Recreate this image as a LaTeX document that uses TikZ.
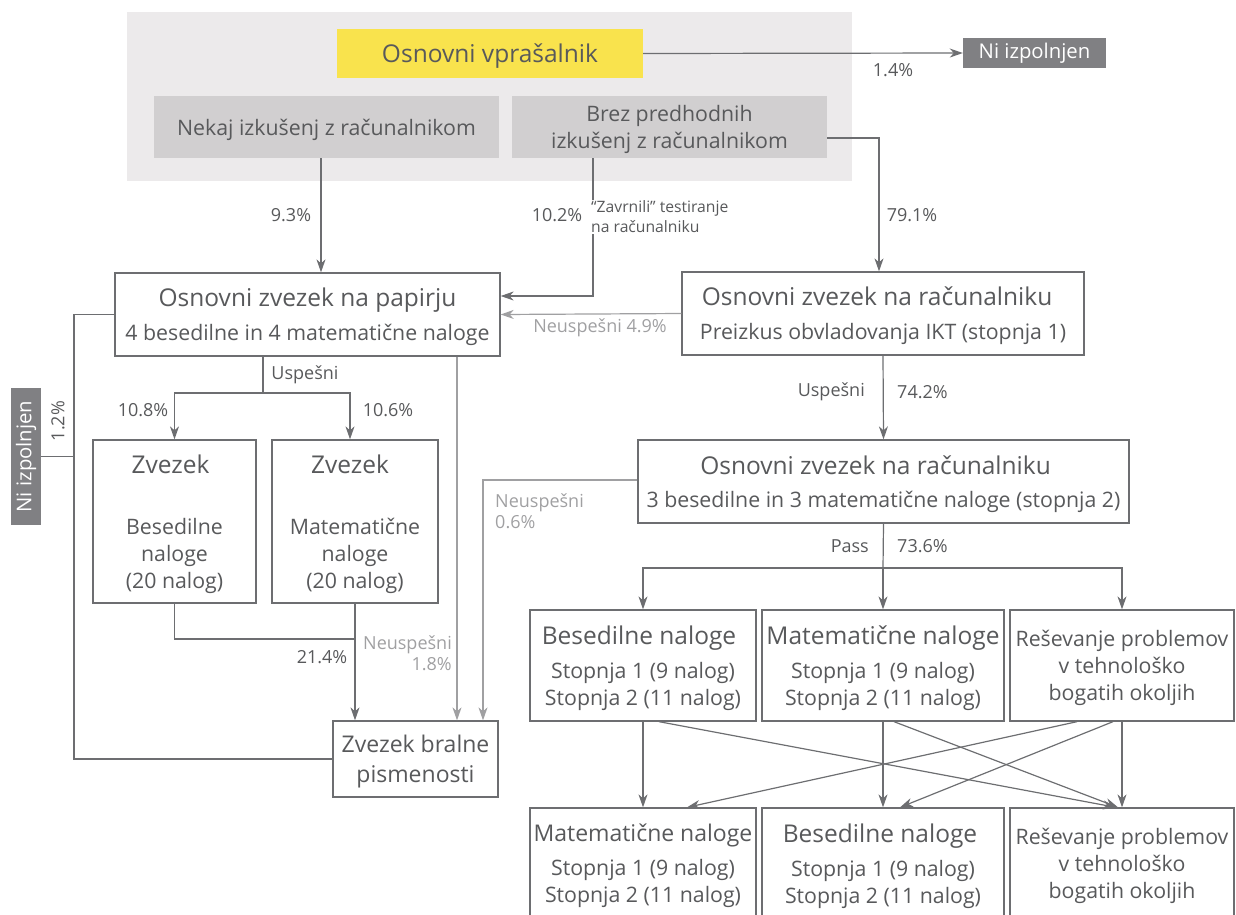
\documentclass[tikz,border=0pt]{standalone}
\usepackage{fontspec}
\setmainfont{Open Sans}
\usetikzlibrary{arrows.meta}
\definecolor{txtgray}{HTML}{58595B}
\definecolor{linegray}{HTML}{6D6E71}
\definecolor{failgray}{HTML}{A0A0A2}
\definecolor{bgpanel}{HTML}{ECEAEB}
\definecolor{graybox}{HTML}{D1CFD0}
\definecolor{yellowq}{HTML}{F9E34D}
\definecolor{nifill}{HTML}{808083}
\newcommand{\boxhead}{\fontsize{24.5}{30}\selectfont}
\newcommand{\boxsub}{\fontsize{21.3}{27}\selectfont}
\newcommand{\pctfont}{\fontsize{18}{21}\selectfont}
\newcommand{\notefont}{\fontsize{15.7}{20}\selectfont}
\tikzset{>={Stealth[length=13pt,width=9pt,inset=4pt]}}

\begin{document}
\begin{tikzpicture}[x=1pt, y=-1pt,
    box/.style={draw=linegray, line width=1.3pt, fill=white, text=txtgray, align=center, inner sep=0pt, text depth=0pt, font=\boxsub},
    panel/.style={fill=#1, text=txtgray, align=center, inner sep=0pt, text depth=0pt, font=\boxsub},
    nibox/.style={fill=nifill, text=white, inner sep=0pt, font=\fontsize{20.3}{24}\selectfont},
    pct/.style={text=txtgray, font=\pctfont, inner sep=1pt},
    fail/.style={text=failgray, font=\pctfont, inner sep=1pt, align=left},
    conn/.style={draw=linegray, line width=1.2pt},
    failconn/.style={draw=failgray, line width=1.2pt}]
    \useasboundingbox (0,0) rectangle (1236,914);
    \clip (0,0) rectangle (1236,914);

    \fill[bgpanel] (127,12) rectangle (852,181);
    \node[panel=yellowq, minimum width=306pt, minimum height=49pt, font=\boxhead] (quest) at (490,53.5) {Osnovni vprašalnik};
    \node[panel=graybox, minimum width=345pt, minimum height=62pt] (nekaj) at (326.5,127) {Nekaj izkušenj z računalnikom};
    \node[panel=graybox, minimum width=315pt, minimum height=62pt] (brez) at (669.5,127) {Brez predhodnih\\izkušenj z računalnikom};
    \node[nibox, minimum width=143pt, minimum height=30pt] (nitop) at (1034.5,53) {Ni izpolnjen};
    \node[nibox, minimum width=137pt, minimum height=30pt, rotate=90] (nileft) at (26,456.5) {Ni izpolnjen};

    \node[box, minimum width=385pt, minimum height=83pt] (paper) at (307.5,314.5) {\boxhead Osnovni zvezek na papirju\\[7pt]4 besedilne in 4 matematične naloge};
    \node[box, minimum width=402pt, minimum height=83pt] (comp1) at (883,313.5) {\boxhead Osnovni zvezek na računalniku\hspace*{12pt}\\[7pt]Preizkus obvladovanja IKT (stopnja 1)};
    \node[box, minimum width=491pt, minimum height=83pt] (comp2) at (883.5,481.5) {\boxhead Osnovni zvezek na računalniku\hspace*{16pt}\\[6pt]3 besedilne in 3 matematične naloge (stopnja 2)};
    \node[box, minimum width=163pt, minimum height=163pt] (zvb) at (174.5,521.5) {\boxhead Zvezek\hspace*{8pt}\\[34pt]Besedilne\\naloge\\(20 nalog)};
    \node[box, minimum width=166pt, minimum height=163pt] (zvm) at (355,521.5) {\boxhead Zvezek\hspace*{10pt}\\[34pt]Matematične\\naloge\\(20 nalog)};
    \node[box, minimum width=165pt, minimum height=76pt, font=\fontsize{23}{30}\selectfont] (bralne) at (415.5,759) {Zvezek bralne\\pismenosti};

    \node[box, minimum width=226pt, minimum height=111pt] (A1) at (643,665.5) {\boxhead Besedilne naloge\hspace*{8pt}\\[7pt]Stopnja 1 (9 nalog)\\Stopnja 2 (11 nalog)};
    \node[box, minimum width=242pt, minimum height=111pt] (B1) at (883,665.5) {\boxhead Matematične naloge\\[7pt]Stopnja 1 (9 nalog)\\Stopnja 2 (11 nalog)};
    \node[box, minimum width=224pt, minimum height=111pt] (C1) at (1122,665.5) {Reševanje problemov\\v tehnološko\\bogatih okoljih};
    \node[box, minimum width=226pt, minimum height=111pt] (A2) at (643,863.5) {\fontsize{23}{30}\selectfont Matematične naloge\\[7pt]Stopnja 1 (9 nalog)\\Stopnja 2 (11 nalog)};
    \node[box, minimum width=242pt, minimum height=111pt] (B2) at (883,863.5) {\boxhead Besedilne naloge\hspace*{6pt}\\[7pt]Stopnja 1 (9 nalog)\\Stopnja 2 (11 nalog)};
    \node[box, minimum width=224pt, minimum height=111pt] (C2) at (1122,863.5) {Reševanje problemov\\v tehnološko\\bogatih okoljih};

    \node[pct] (p14) at (893,70) {1.4\%};
    \node[pct] (p93) at (291,215) {9.3\%};
    \node[pct] (p102) at (557,215) {10.2\%};
    \node[text=txtgray, font=\notefont, align=left, inner sep=1pt, anchor=west] (zavr) at (590,217) {“Zavrnili” testiranje\\na računalniku};
    \node[pct] (p791) at (912,215) {79.1\%};
    \node[fail] (f49) at (600,328) {Neuspešni 4.9\%};
    \node[pct] (usl) at (305,375) {Uspešni};
    \node[pct] (p108) at (143,410) {10.8\%};
    \node[pct] (p106) at (388,410) {10.6\%};
    \node[pct, rotate=90] (p12) at (58,421) {1.2\%};
    \node[fail, anchor=north west] (f06) at (494,492) {Neuspešni\\0.6\%};
    \node[pct] (p214) at (322,657) {21.4\%};
    \node[fail, align=right, anchor=north east] (f18) at (453,634) {Neuspešni\\1.8\%};
    \node[pct, anchor=east] (usr) at (866,392) {Uspešni};
    \node[pct, anchor=west] (p742) at (896,392) {74.2\%};
    \node[pct, anchor=east] (pass) at (870,546) {Pass};
    \node[pct, anchor=west] (p736) at (896,546) {73.6\%};

    \coordinate (zr) at (593,296);
    \coordinate (bt) at (879,138);
    \coordinate (us) at (263,393);
    \coordinate (jn) at (355,639);
    \coordinate (pb) at (457,0);
    \coordinate (nb) at (483,480);
    \coordinate (lx) at (74,314);
    \coordinate (ps) at (883,568);

    \draw[conn, ->] (quest.east) -- (nitop.west);
    \draw[conn, ->] ([xshift=-5.5pt]nekaj.south) -- ([xshift=-5.5pt]nekaj.south |- paper.north);
    \draw[conn] (brez.south -| zr) -- (zavr.north -| zr);
    \draw[conn, ->] (zavr.south -| zr) -- (zr) -- (zr -| paper.east);
    \draw[conn, ->] (bt -| brez.east) -- (bt) -- (bt |- comp1.north);
    \draw[failconn, ->] (comp1.west) -- (paper.east);

    \draw[conn] (us |- paper.south) -- (us);
    \draw[conn, ->] (us) -| (zvb.north);
    \draw[conn, ->] (us) -| ([xshift=-5pt]zvm.north);
    \draw[conn] (zvb.south) |- (jn);
    \draw[conn, ->] (zvm.south) -- (zvm.south |- bralne.north);
    \draw[failconn, ->] (paper.south -| pb) -- (pb |- bralne.north);
    \draw[failconn, ->] (comp2.west |- nb) -- (nb) -- (nb |- bralne.north);
    \draw[conn] (paper.west) -| (lx |- bralne.west) -- (bralne.west);
    \draw[conn] (nileft.south) -- (nileft.south -| lx);

    \draw[conn, ->] (comp1.south) -- (comp2.north);
    \draw[conn] (comp2.south) -- (ps);
    \draw[conn, ->] (ps) -- (B1.north);
    \draw[conn, ->] (ps) -| (A1.north);
    \draw[conn, ->] (ps) -| (C1.north);

    \draw[conn, ->] (A1.south) -- (A2.north);
    \draw[conn, ->] (B1.south) -- (B2.north);
    \draw[conn, ->] (C1.south) -- (C2.north);
    \draw[conn, ->] ([xshift=16pt]A1.south) -- ([xshift=-6pt]C2.north);
    \draw[conn, ->] ([xshift=11pt]B1.south) -- ([xshift=-4pt]C2.north);
    \draw[conn, ->] ([xshift=-45pt]C1.south) -- ([xshift=44pt]A2.north);
    \draw[conn, ->] ([xshift=-9pt]C1.south) -- ([xshift=17pt]B2.north);
\end{tikzpicture}
\end{document}
